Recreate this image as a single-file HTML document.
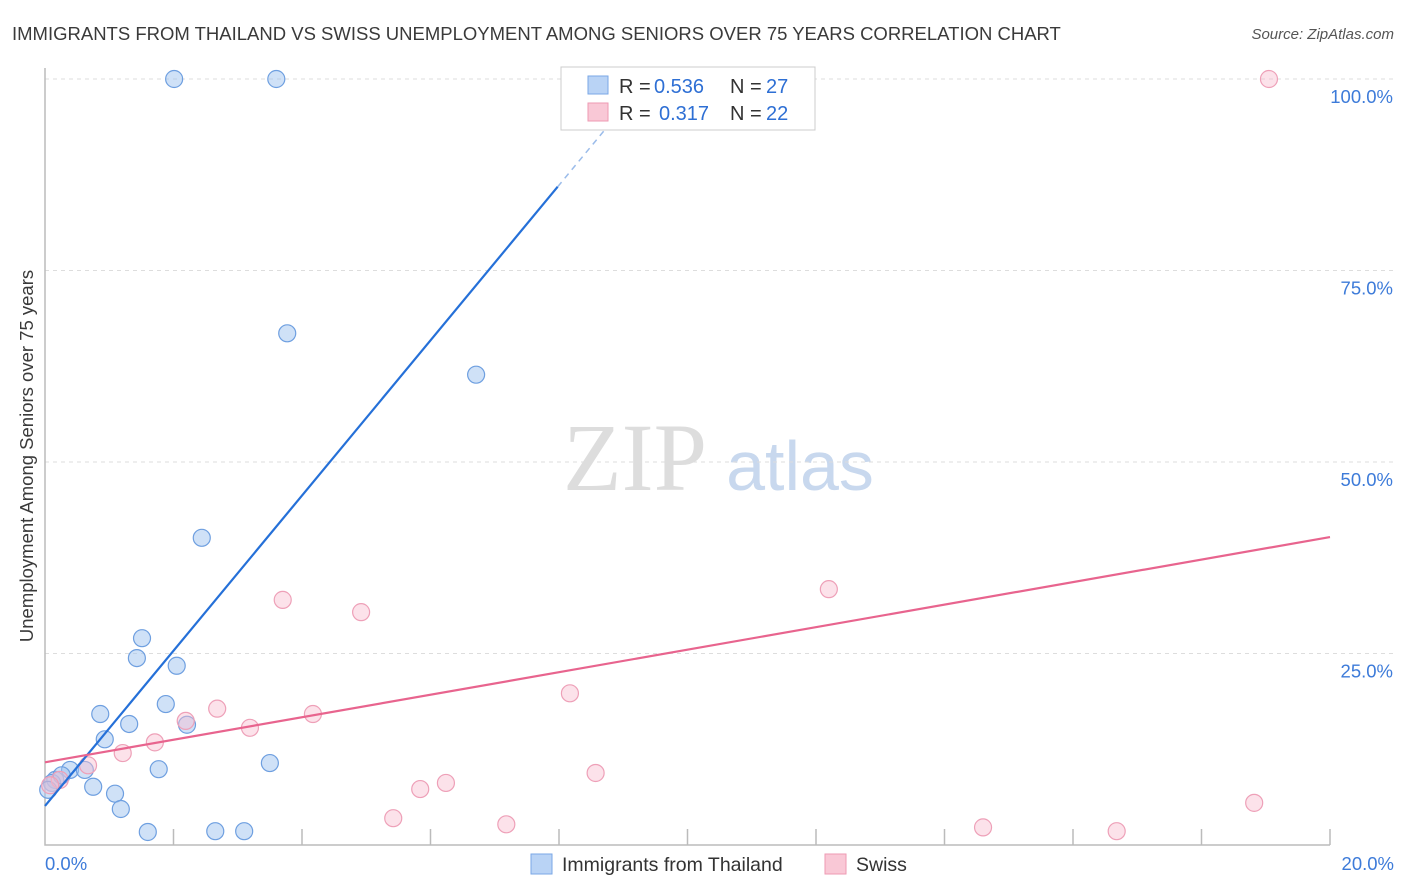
<!DOCTYPE html>
<html><head><meta charset="utf-8"><style>
body{margin:0;background:#fff;font-family:"Liberation Sans",sans-serif;}
svg{display:block}
</style></head><body>
<svg id="c" width="1406" height="892">
<text x="12" y="40" font-size="18.5" fill="#3a3a3a">IMMIGRANTS FROM THAILAND VS SWISS UNEMPLOYMENT AMONG SENIORS OVER 75 YEARS CORRELATION CHART</text>
<text x="1394" y="39" font-size="15" fill="#555" text-anchor="end" font-style="italic">Source: ZipAtlas.com</text>
<text x="0" y="0" transform="translate(33,456) rotate(-90)" font-size="18.5" fill="#3a3a3a" text-anchor="middle">Unemployment Among Seniors over 75 years</text>
<g><text x="635" y="490" font-size="96" font-family="Liberation Serif,serif" fill="#ddd" text-anchor="middle">ZIP</text><text x="800" y="490" font-size="70" fill="#c8d8ee" text-anchor="middle">atlas</text></g>
<g id="grid"></g><g id="marks"></g>
<g>
<rect x="561" y="67" width="254" height="63" fill="#fff" stroke="#ccc"/>
<rect x="588" y="76" width="20" height="18" fill="#b9d3f5" stroke="#7aa7e6"/>
<text x="619" y="93" font-size="20" fill="#333">R =</text><text x="654" y="93" font-size="20" fill="#2e6fd4">0.536</text>
<text x="730" y="93" font-size="20" fill="#333">N =</text><text x="766" y="93" font-size="20" fill="#2e6fd4">27</text>
<rect x="588" y="103" width="20" height="18" fill="#f9c8d6" stroke="#ee9ab3"/>
<text x="619" y="120" font-size="20" fill="#333">R =</text><text x="659" y="120" font-size="20" fill="#2e6fd4">0.317</text>
<text x="730" y="120" font-size="20" fill="#333">N =</text><text x="766" y="120" font-size="20" fill="#2e6fd4">22</text>
</g>
<g>
<rect x="531" y="854" width="21" height="20" fill="#b9d3f5" stroke="#7aa7e6"/>
<text x="562" y="871" font-size="19.5" fill="#333">Immigrants from Thailand</text>
<rect x="825" y="854" width="21" height="20" fill="#f9c8d6" stroke="#ee9ab3"/>
<text x="856" y="871" font-size="19.5" fill="#333">Swiss</text>
</g>
</svg>
<script>
const yTicks=[25,50,75,100];
const xTickLabels=["0.0%","20.0%"];
const blueX=[2.01,3.60,3.77,6.71,2.44,1.51,1.43,2.05,1.88,0.86,1.31,2.21,0.93,1.77,3.50,0.39,0.62,0.16,0.75,1.09,1.18,1.60,2.65,3.10,0.11,0.05,0.26];
const blueY=[100,100,66.8,61.4,40.1,27.0,24.4,23.4,18.4,17.1,15.8,15.7,13.8,9.9,10.7,9.8,9.8,8.5,7.6,6.7,4.7,1.7,1.8,1.8,8.1,7.2,9.1];
const pinkX=[19.05,12.2,3.70,4.92,8.17,2.68,2.19,4.17,3.19,1.71,1.21,0.67,8.57,6.24,5.84,5.42,7.18,14.6,16.68,18.82,0.23,0.08];
const pinkY=[100,33.4,32.0,30.4,19.8,17.8,16.2,17.1,15.3,13.4,12.0,10.4,9.4,8.1,7.3,3.5,2.7,2.3,1.8,5.5,8.5,7.8];
const blueLine=[5.1,10.13];
const pinkLine=[10.8,1.47];
const X=v=>45+v/20*1285, Y=v=>845-v/100*766;
const ns="http://www.w3.org/2000/svg";
function mk(p,t,a){const e=document.createElementNS(ns,t);for(const k in a)e.setAttribute(k,a[k]);p.appendChild(e);return e;}
const g=document.getElementById('grid'),m=document.getElementById('marks');
yTicks.forEach(t=>{
const l=mk(g,'line',{x1:45,x2:1394,y1:Y(t),y2:Y(t),stroke:'#ddd','stroke-dasharray':'4,4'});


const tx=mk(g,'text',{x:1393,y:Y(t)+24,'font-size':18.5,fill:'#3d7bd9','text-anchor':'end'});tx.textContent=t.toFixed(1)+'%';


});
const ax=mk(g,'path',{d:'M45,68V845H1330',stroke:'#bbb',fill:'none','stroke-width':1.5});


for(let i=1;i<=10;i++){const t=mk(g,'line',{x1:X(i*2),x2:X(i*2),y1:829,y2:845,stroke:'#bbb','stroke-width':1.5});

}
[[0,45,'start'],[1,1394,'end']].forEach(([i,x,a])=>{const t=mk(g,'text',{x:x,y:870,'font-size':18.5,fill:'#3d7bd9','text-anchor':a});t.textContent=xTickLabels[i];

});
blueX.forEach((v,i)=>{const c=mk(m,'circle',{cx:X(v),cy:Y(blueY[i]),r:8.5,fill:'rgba(160,195,240,0.5)',stroke:'#6e9fe0','stroke-width':1.2});

});
pinkX.forEach((v,i)=>{const c=mk(m,'circle',{cx:X(v),cy:Y(pinkY[i]),r:8.5,fill:'rgba(248,190,208,0.45)',stroke:'#eea0b8','stroke-width':1.2});

});
const bx1=7.98,bx2=8.8;
let l=mk(m,'line',{x1:X(0),y1:Y(blueLine[0]),x2:X(bx1),y2:Y(blueLine[0]+blueLine[1]*bx1),stroke:'#2570d8','stroke-width':2.2});


l=mk(m,'line',{x1:X(bx1),y1:Y(blueLine[0]+blueLine[1]*bx1),x2:X(bx2),y2:Y(blueLine[0]+blueLine[1]*bx2),stroke:'#9bbcea','stroke-width':1.5,'stroke-dasharray':'6,5'});


l=mk(m,'line',{x1:X(0),y1:Y(pinkLine[0]),x2:X(20),y2:Y(pinkLine[0]+pinkLine[1]*20),stroke:'#e8648e','stroke-width':2.2});


</script>
</body></html>
